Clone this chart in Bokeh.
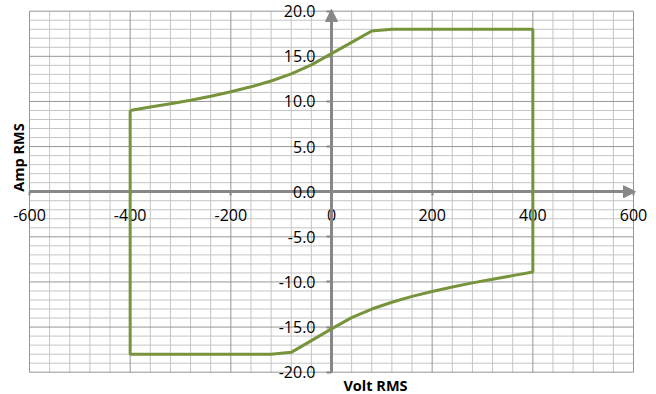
import math
from bokeh.plotting import figure
from bokeh.models import (FixedTicker, NumeralTickFormatter, Arrow, NormalHead,
                          Label, Range1d)
from bokeh.embed import file_html
from bokeh.resources import INLINE

# ---- data ----
upper_volt = [-400, -360, -320, -280, -240, -200, -160, -120, -80, -40, 0, 40, 80, 120, 400]
upper_amp = [9.0, 9.38, 9.75, 10.13, 10.57, 11.07, 11.62, 12.27, 13.05, 14.05, 15.3, 16.55, 17.8, 18.0, 18.0]
lower_volt = [400, 360, 320, 280, 240, 200, 160, 120, 80, 40, 0, -40, -80, -120, -400]
lower_amp = [-8.9, -9.3, -9.7, -10.1, -10.55, -11.05, -11.6, -12.25, -13.0, -13.95, -15.2, -16.5, -17.8, -18.0, -18.0]

x_major_ticks = [-600, -400, -200, 0, 200, 400, 600]
y_major_ticks = [-20, -15, -10, -5, 0, 5, 10, 15, 20]
x_minor_step = 40
y_minor_step = 1
x_title = "Volt RMS"
y_title = "Amp RMS"

# closed outline
xs = upper_volt + lower_volt + [upper_volt[0]]
ys = upper_amp + lower_amp + [upper_amp[0]]

AXIS = "#878787"
MAJOR = "#969696"
MINOR = "#c4c4c4"
GREEN = "#77933C"
FONT = "Open Sans"

W, H = 656, 394
X0, X1 = x_major_ticks[0], x_major_ticks[-1]
Y0, Y1 = y_major_ticks[0], y_major_ticks[-1]
# pixel placement of the plotting area
PX_L, PX_R, PX_T, PX_B = 29.0, 633.0, 10.7, 371.7
sx = (PX_R - PX_L) / (X1 - X0)
sy = (PX_B - PX_T) / (Y1 - Y0)
x_start = X0 - PX_L / sx
x_end = X1 + (W - PX_R) / sx
y_end = Y1 + PX_T / sy
y_start = Y0 - (H - PX_B) / sy


def dx(px):
    return X0 + (px - PX_L) / sx


def dy(py):
    return Y1 - (py - PX_T) / sy


x_minor = [v for v in range(X0, X1 + 1, x_minor_step) if v not in x_major_ticks]
y_minor = [v for v in range(Y0, Y1 + 1, y_minor_step) if v not in y_major_ticks]

p = figure(width=W, height=H,
           x_range=Range1d(x_start, x_end), y_range=Range1d(y_start, y_end),
           output_backend="svg", toolbar_location=None,
           min_border=0, min_border_left=0, min_border_right=0,
           min_border_top=0, min_border_bottom=0)
p.background_fill_color = "white"
p.border_fill_color = "white"
p.outline_line_color = None
p.xgrid.visible = False
p.ygrid.visible = False

# grid lines, bounded to the plotting area
p.segment(x0=x_minor, x1=x_minor, y0=[Y0] * len(x_minor), y1=[Y1] * len(x_minor),
          line_color=MINOR, line_width=1)
p.segment(x0=[X0] * len(y_minor), x1=[X1] * len(y_minor), y0=y_minor, y1=y_minor,
          line_color=MINOR, line_width=1)
p.segment(x0=x_major_ticks, x1=x_major_ticks, y0=[Y0] * len(x_major_ticks),
          y1=[Y1] * len(x_major_ticks), line_color=MAJOR, line_width=1)
p.segment(x0=[X0] * len(y_major_ticks), x1=[X1] * len(y_major_ticks),
          y0=y_major_ticks, y1=y_major_ticks, line_color=MAJOR, line_width=1)

xt = FixedTicker(ticks=x_major_ticks)
yt = FixedTicker(ticks=y_major_ticks)

for ax, tk, bnds in ((p.xaxis[0], xt, (X0, X1)), (p.yaxis[0], yt, (Y0, Y1))):
    ax.ticker = tk
    ax.bounds = bnds
    ax.fixed_location = 0
    ax.axis_line_color = AXIS
    ax.axis_line_width = 3
    ax.major_tick_line_color = AXIS
    ax.major_tick_line_width = 2
    ax.major_tick_in = 0
    ax.minor_tick_in = 0
    ax.minor_tick_out = 0
    ax.major_label_text_font = FONT
    ax.major_label_text_font_size = "16px"
    ax.major_label_text_color = "#000000"

p.xaxis[0].major_tick_out = 4
p.xaxis[0].major_label_standoff = 13
p.xaxis[0].formatter = NumeralTickFormatter(format="0")
p.yaxis[0].major_tick_out = 5
p.yaxis[0].major_label_standoff = 11
p.yaxis[0].formatter = NumeralTickFormatter(format="0.0")

# arrow heads at the ends of the axes
p.add_layout(Arrow(end=NormalHead(size=12, fill_color=AXIS, line_color=AXIS),
                   x_start=X1 - 20, y_start=0, x_end=X1 + 4, y_end=0,
                   line_color=AXIS, line_width=3))
p.add_layout(Arrow(end=NormalHead(size=12, fill_color=AXIS, line_color=AXIS),
                   x_start=0, y_start=Y1 - 1, x_end=0, y_end=Y1 + 0.2,
                   line_color=AXIS, line_width=3))

p.line(xs, ys, line_color=GREEN, line_width=3, level="overlay")

p.add_layout(Label(x=dx(17.5), y=dy(157), text=y_title, angle=math.pi / 2,
                   text_align="center", text_baseline="middle",
                   text_font=FONT, text_font_style="bold", text_font_size="14.5px",
                   text_color="#000000"))
p.add_layout(Label(x=dx(375), y=dy(385), text=x_title,
                   text_align="center", text_baseline="middle",
                   text_font=FONT, text_font_style="bold", text_font_size="14.5px",
                   text_color="#000000"))

open("out.html", "w").write(file_html(p, INLINE))
